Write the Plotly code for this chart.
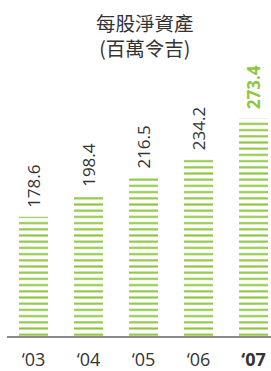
import plotly.graph_objects as go

years = ["‘03", "‘04", "‘05", "‘06", "‘07"]
values = [178.6, 198.4, 216.5, 234.2, 273.4]
labels = ["178.6", "198.4", "216.5", "234.2", "273.4"]
title_lines = ["每股淨資產", "(百萬令吉)"]

GREEN = "#8cc63e"
DARK = "#333333"
FONT = "Open Sans"
xs = list(range(len(values)))

fig = go.Figure()
fig.add_trace(go.Bar(
    x=xs, y=values, width=0.527,
    marker=dict(
        color="white",
        line=dict(width=0),
        pattern=dict(shape="-", fgcolor=GREEN, fgopacity=1, bgcolor="white",
                     size=6.2, solidity=0.33, fillmode="overlay"),
    ),
    hoverinfo="skip",
))

for i, (v, t) in enumerate(zip(values, labels)):
    last = i == len(values) - 1
    fig.add_annotation(
        x=i, y=v, xref="x", yref="y", text=("<b>%s</b>" % t) if last else t,
        textangle=-90, showarrow=False, xanchor="center", yanchor="bottom", yshift=7,
        font=dict(family=FONT, size=17, color=GREEN if last else DARK),
    )

fig.add_annotation(
    x=142 / 271, y=1 - 35.5 / 371, xref="paper", yref="paper", yanchor="middle",
    text="<br>".join(title_lines), showarrow=False, xanchor="center", borderpad=0,
    font=dict(family="Noto Sans CJK TC", size=19.5, color=DARK),
)

ticktext = [("<b>%s</b>" % y) if i == len(years) - 1 else y for i, y in enumerate(years)]

fig.update_layout(
    width=271, height=371,
    margin=dict(l=7, r=0, t=3, b=27),
    paper_bgcolor="white", plot_bgcolor="white",
    showlegend=False,
    xaxis=dict(
        range=[-0.482, 4.318], tickvals=xs, ticktext=ticktext,
        showline=True, linecolor="#8a8a8a", linewidth=1.7,
        showgrid=False, zeroline=False, ticks="", ticklabelstandoff=7,
        tickfont=dict(family=FONT, size=18, color=DARK),
    ),
    yaxis=dict(range=[63.6, 385], visible=False, showgrid=False, zeroline=False),
)
fig.write_html("out.html", config={"displayModeBar": False, "staticPlot": True},
               post_script="document.body.style.margin='0';document.body.style.overflow='hidden';")
